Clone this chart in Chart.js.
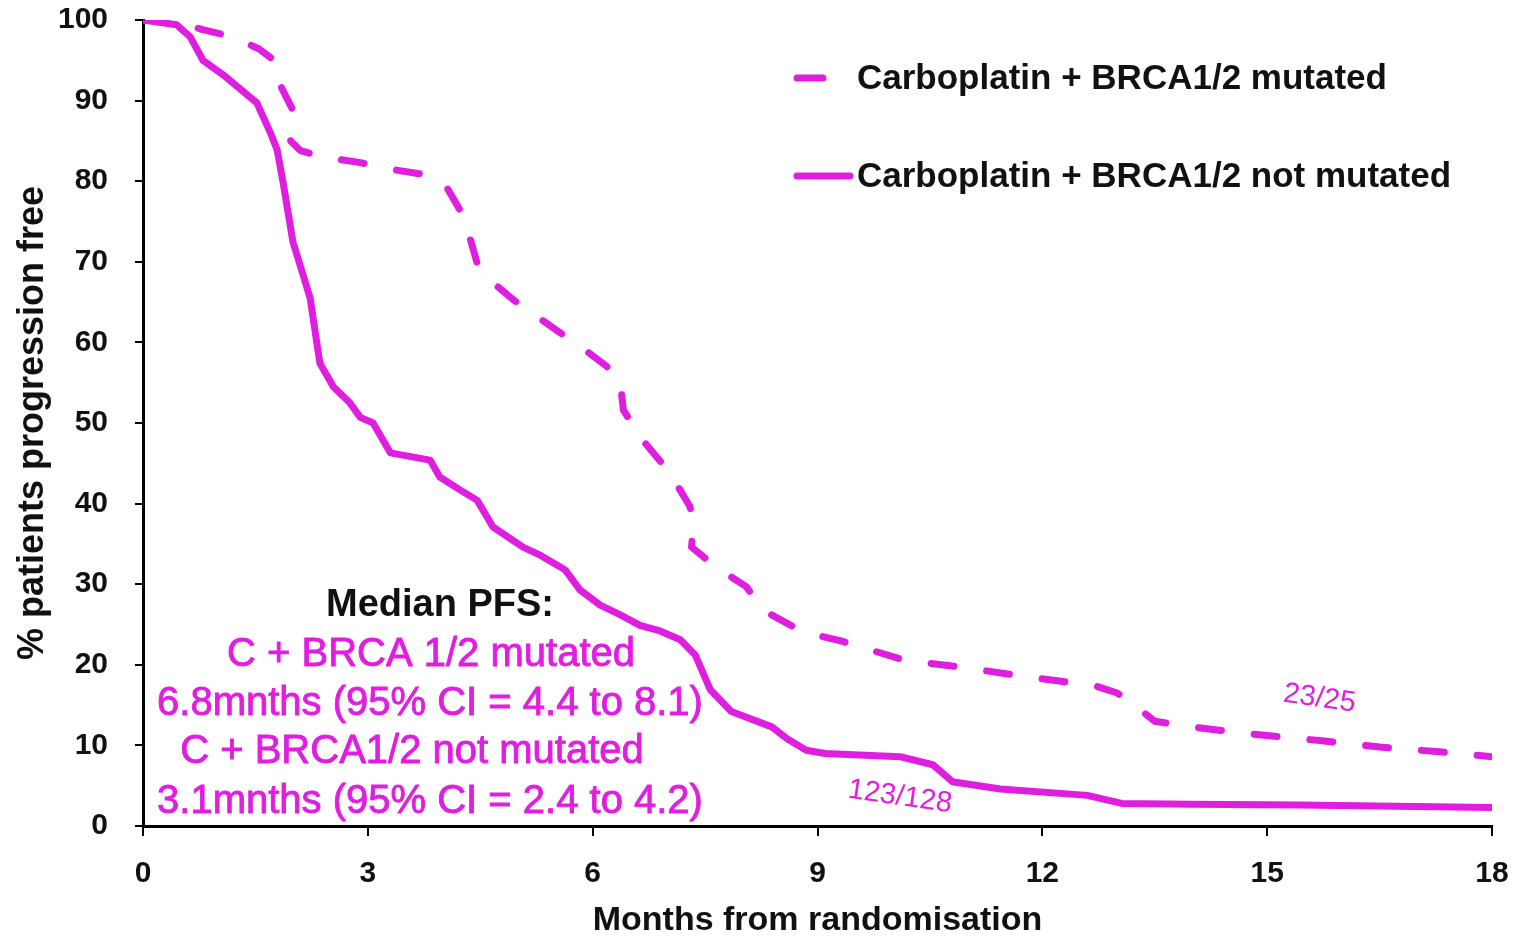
<!DOCTYPE html>
<html>
<head>
<meta charset="utf-8">
<script src="https://cdn.jsdelivr.net/npm/chart.js@4"></script>
<style>
  html, body { margin: 0; padding: 0; background: #fff; }
  #wrap { width: 1522px; height: 941px; }
</style>
</head>
<body>
<div id="wrap"><canvas id="km" width="1522" height="941"></canvas></div>
<script>
// Kaplan-Meier curves (months, % progression free)
const mutatedMonths = [0, 0.5, 0.8, 1.2, 1.55, 1.75, 1.8, 2.0, 1.97, 2.1, 2.4, 2.9, 3.3, 3.7, 4.05, 4.23, 4.3, 4.46, 4.67, 4.94, 5.2, 5.52, 5.85, 6.19, 6.37, 6.41, 6.5, 6.63, 7.03, 7.3, 7.34, 7.32, 7.65, 8.05, 8.27, 8.8, 9.3, 10.15, 11.0, 11.8, 12.7, 13.0, 13.2, 13.5, 13.9, 14.8, 15.7, 16.5, 17.3, 18];
const mutatedPct = [100, 99.6, 98.8, 97.9, 96.4, 95.0, 92.5, 88.8, 85.0, 83.8, 83.0, 82.3, 81.5, 80.9, 79.3, 76.4, 75.0, 69.8, 67.4, 65.3, 63.6, 61.5, 59.4, 57.0, 55.0, 51.6, 50.3, 48.3, 43.8, 39.6, 37.0, 34.6, 32.1, 29.7, 26.8, 24.1, 23.0, 20.6, 19.6, 18.5, 17.4, 16.5, 15.2, 13.0, 12.4, 11.4, 10.6, 9.8, 9.2, 8.6];

const notMutatedMonths = [0, 0.45, 0.63, 0.8, 1.07, 1.52, 1.7, 1.79, 1.87, 2.0, 2.23, 2.36, 2.54, 2.76, 2.9, 3.07, 3.3, 3.83, 3.96, 4.23, 4.46, 4.67, 5.07, 5.3, 5.63, 5.83, 6.1, 6.37, 6.63, 6.9, 7.17, 7.37, 7.57, 7.85, 8.39, 8.6, 8.85, 9.1, 10.1, 10.54, 10.8, 11.44, 12.6, 13.06, 14, 15.44, 18];
const notMutatedPct = [100, 99.4, 97.9, 95.0, 93.2, 89.7, 86.0, 83.9, 79.8, 72.5, 65.5, 57.4, 54.5, 52.5, 50.7, 50.0, 46.3, 45.4, 43.3, 41.7, 40.4, 37.1, 34.6, 33.6, 31.8, 29.3, 27.4, 26.2, 24.9, 24.2, 23.1, 21.2, 16.9, 14.2, 12.3, 10.8, 9.4, 9.0, 8.6, 7.6, 5.5, 4.6, 3.8, 2.8, 2.7, 2.6, 2.3];

const seriesLabels = ['Carboplatin + BRCA1/2 mutated', 'Carboplatin + BRCA1/2 not mutated'];
const xTicks = [0, 3, 6, 9, 12, 15, 18];
const yTicks = [0, 10, 20, 30, 40, 50, 60, 70, 80, 90, 100];

const medianLines = [
  'Median PFS:',
  'C + BRCA 1/2 mutated',
  '6.8mnths (95% CI = 4.4 to 8.1)',
  'C + BRCA1/2 not mutated',
  '3.1mnths (95% CI = 2.4 to 4.2)'
];
const atRiskLabels = ['23/25', '123/128'];

const MAGENTA = 'rgb(224, 30, 224)';
const FONT = '"Liberation Sans", Arial, sans-serif';

function toPoints(xs, ys) {
  return xs.map((x, i) => ({ x: x, y: ys[i] }));
}

// labels may overhang the plot; keep the plot edges where the reference has them
function noOverhang(s) {
  s.paddingTop = 0;
  s.paddingBottom = 0;
  s.paddingLeft = 0;
  s.paddingRight = 0;
}

// legend + text annotations drawn on top of the plot
const annotations = {
  id: 'annotations',
  afterDraw(chart) {
    const ctx = chart.ctx;
    const ds = chart.data.datasets;
    ctx.save();

    // legend
    const legendRows = [
      { y: 78, x0: 797, x1: 823 },
      { y: 176, x0: 797, x1: 850 }
    ];
    legendRows.forEach((row, i) => {
      ctx.strokeStyle = ds[i].borderColor;
      ctx.lineWidth = ds[i].borderWidth;
      ctx.lineCap = 'round';
      ctx.setLineDash([]);
      ctx.beginPath();
      ctx.moveTo(row.x0, row.y);
      ctx.lineTo(row.x1, row.y);
      ctx.stroke();
      ctx.fillStyle = '#111';
      ctx.font = 'bold 35px ' + FONT;
      ctx.textAlign = 'left';
      ctx.textBaseline = 'middle';
      ctx.fillText(ds[i].label, 857, row.y + 1);
    });

    // median PFS block
    ctx.textAlign = 'center';
    ctx.textBaseline = 'middle';
    const rowsY = [606, 655, 704, 752, 802];
    const rowsX = [440, 431, 430, 412, 430];
    medianLines.forEach((t, i) => {
      if (i === 0) {
        ctx.fillStyle = '#111';
        ctx.font = 'bold 38px ' + FONT;
        ctx.fillText(t, rowsX[i], rowsY[i]);
      } else {
        ctx.fillStyle = MAGENTA;
        ctx.strokeStyle = MAGENTA;
        ctx.lineWidth = 0.9;
        ctx.font = '40px ' + FONT;
        ctx.fillText(t, rowsX[i], rowsY[i]);
        ctx.strokeText(t, rowsX[i], rowsY[i]);
      }
    });

    // numbers at risk, slightly tilted
    const sx = chart.scales.x, sy = chart.scales.y;
    const atRiskPos = [{ m: 15.7, v: 15.8 }, { m: 10.1, v: 3.6 }];
    ctx.font = '29px ' + FONT;
    atRiskLabels.forEach((t, i) => {
      ctx.save();
      ctx.translate(sx.getPixelForValue(atRiskPos[i].m), sy.getPixelForValue(atRiskPos[i].v));
      ctx.rotate(8 * Math.PI / 180);
      ctx.fillStyle = MAGENTA;
      ctx.fillText(t, 0, 0);
      ctx.restore();
    });

    ctx.restore();
  }
};

new Chart(document.getElementById('km'), {
  type: 'line',
  data: {
    datasets: [
      {
        label: seriesLabels[0],
        data: toPoints(mutatedMonths, mutatedPct),
        borderColor: MAGENTA,
        borderWidth: 7,
        borderDash: [23, 33],
        borderCapStyle: 'round',
        borderJoinStyle: 'round',
        pointRadius: 0,
        tension: 0,
        fill: false
      },
      {
        label: seriesLabels[1],
        data: toPoints(notMutatedMonths, notMutatedPct),
        borderColor: MAGENTA,
        borderWidth: 7,
        borderCapStyle: 'round',
        borderJoinStyle: 'round',
        pointRadius: 0,
        tension: 0,
        fill: false
      }
    ]
  },
  options: {
    responsive: false,
    animation: false,
    devicePixelRatio: 1,
    layout: { padding: { top: 20, right: 30, left: 0, bottom: 0 } },
    plugins: {
      legend: { display: false },
      tooltip: { enabled: false }
    },
    scales: {
      x: {
        type: 'linear',
        min: 0,
        max: 18,
        afterBuildTicks: s => { s.ticks = xTicks.map(v => ({ value: v })); },
        afterFit: s => { s.height = 115; noOverhang(s); },
        border: { color: '#000', width: 3 },
        grid: { drawOnChartArea: false, drawTicks: true, tickLength: 10, color: '#000', lineWidth: 2 },
        ticks: {
          color: '#111',
          padding: 20,
          maxRotation: 0,
          font: { family: FONT, size: 30, weight: 'bold' }
        },
        title: {
          display: true,
          text: 'Months from randomisation',
          color: '#111',
          padding: { top: 0, bottom: 0 },
          font: { family: FONT, size: 34, weight: 'bold' }
        }
      },
      y: {
        min: 0,
        max: 100,
        afterBuildTicks: s => { s.ticks = yTicks.map(v => ({ value: v })); },
        afterFit: s => { s.width = 143; noOverhang(s); },
        border: { color: '#000', width: 3 },
        grid: { drawOnChartArea: false, drawTicks: true, tickLength: 8, color: '#000', lineWidth: 2 },
        ticks: {
          color: '#111',
          padding: 27,
          font: { family: FONT, size: 30, weight: 'bold' }
        },
        title: {
          display: true,
          text: '% patients progression free',
          color: '#111',
          padding: { top: 11, bottom: 0 },
          font: { family: FONT, size: 36, weight: 'bold' }
        }
      }
    }
  },
  plugins: [annotations]
});
</script>
</body>
</html>
